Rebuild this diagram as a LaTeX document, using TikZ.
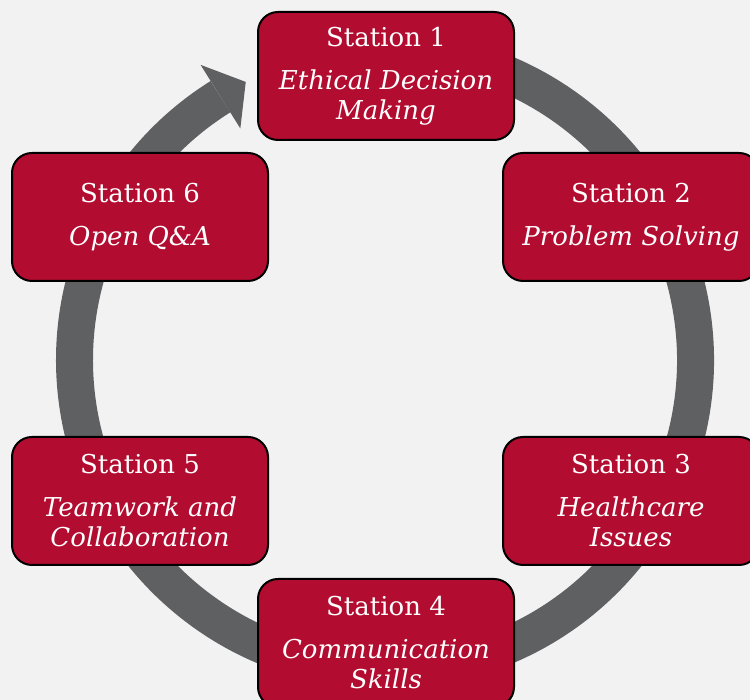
\documentclass[tikz,border=0pt]{standalone}
\usepackage{fontspec}
\usetikzlibrary{calc}
\setmainfont{DejaVu Serif}
\definecolor{bg}{HTML}{F2F2F2}
\definecolor{ringgray}{HTML}{5F6062}
\definecolor{boxred}{HTML}{B20D30}
\tikzset{
  stationbox/.style={draw=black, line width=2pt, fill=boxred, rounded corners=20pt,
    minimum width=256pt, minimum height=128pt, text=white, align=center,
    font=\fontsize{26}{30}\selectfont, inner sep=0pt},
}
\begin{document}
\begin{tikzpicture}[x=1pt,y=1pt]
  \fill[bg] (0,0) rectangle (750,700);
  \useasboundingbox (0,0) rectangle (750,700);
  \clip (0,0) rectangle (750,700);
  \coordinate (c) at (385,340);
  % ring
  \draw[ringgray, line width=37pt] ($(c)+(100:310.5)$) arc[start angle=100, end angle=-238, radius=310.5];
  \fill[ringgray] ($(c)+(122:273)$) -- ($(c)+(116.6:311)$) -- ($(c)+(122:348)$) -- cycle;
  % boxes
  \node[stationbox] (s1) at (386,624) {Station 1\\[13pt]\textit{Ethical Decision}\\\textit{Making}};
  \node[stationbox] (s2) at (631,483) {Station 2\\[13pt]\textit{Problem Solving}};
  \node[stationbox] (s3) at (631,199) {Station 3\\[13pt]\textit{Healthcare}\\\textit{Issues}};
  \node[stationbox] (s4) at (386,57) {Station 4\\[13pt]\textit{Communication}\\\textit{Skills}};
  \node[stationbox] (s5) at (140,199) {Station 5\\[13pt]\textit{Teamwork and}\\\textit{Collaboration}};
  \node[stationbox] (s6) at (140,483) {Station 6\\[13pt]\textit{Open Q\&A}};
\end{tikzpicture}
\end{document}
